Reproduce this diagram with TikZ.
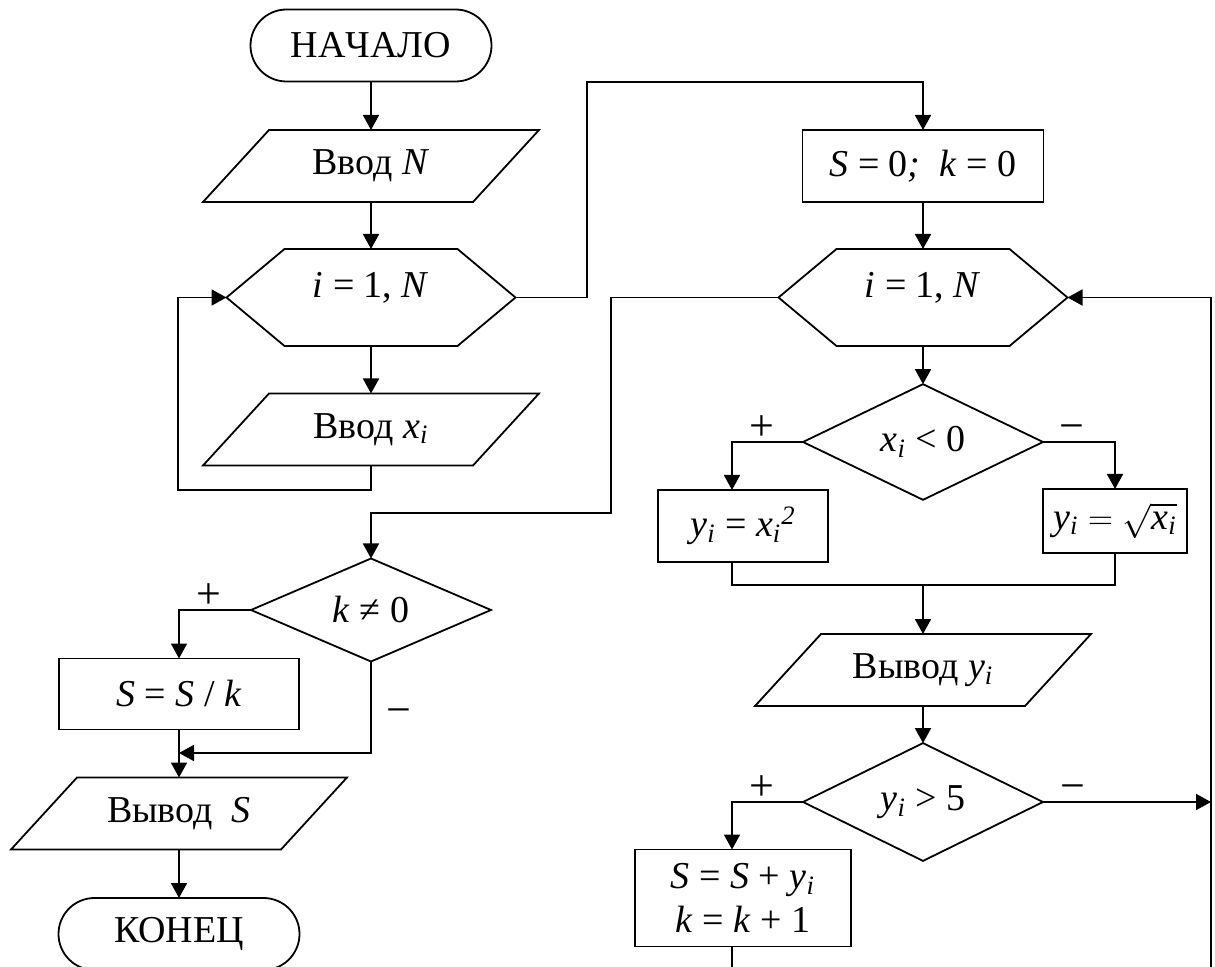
\documentclass[tikz,border=0pt]{standalone}
\usepackage{fontspec}
\setmainfont{Liberation Serif}
\usepackage{amsmath}
\usepackage{tikz}
\usetikzlibrary{arrows.meta}
\usetikzlibrary{shapes.geometric,shapes.misc}
\usetikzlibrary{positioning}
\newcommand{\idx}[1]{\textit{#1}\textsubscript{\textit{i}}}
\tikzset{
	% 1 unit = 1 pixel of the scheme
	base/.style={inner sep=0pt, outer sep=0pt, align=center,
		font=\fontsize{19}{22}\selectfont},
	term/.style={base, draw, rounded rectangle, minimum width=120.5pt, minimum height=36pt},
	proc/.style={base, draw, rectangle},
	iobox/.style={base, minimum width=168pt, minimum height=36pt,
		append after command={\pgfextra{\draw ([xshift=33pt]\tikzlastnode.north west)
			-- (\tikzlastnode.north east) -- ([xshift=-33pt]\tikzlastnode.south east)
			-- (\tikzlastnode.south west) -- cycle;}}},
	loopbox/.style={base, minimum width=144.5pt, minimum height=48.5pt,
		text height=13pt, text depth=13pt,
		append after command={\pgfextra{\draw (\tikzlastnode.west)
			-- ([xshift=29pt]\tikzlastnode.north west) -- ([xshift=-29pt]\tikzlastnode.north east)
			-- (\tikzlastnode.east) -- ([xshift=-29pt]\tikzlastnode.south east)
			-- ([xshift=29pt]\tikzlastnode.south west) -- cycle;}}},
	cond/.style={base, draw, diamond, minimum width=120pt, minimum height=48pt},
	sign/.style={inner sep=0.5pt, font=\fontsize{22}{24}\selectfont},
}
\tikzstyle{line} = [draw, -{Triangle[length=7.5pt,width=8pt]}]

\begin{document}
\begin{tikzpicture}[x=0.5pt, y=-0.5pt, line width=0.9pt]
	\useasboundingbox (0,0) rectangle (1215,967);
	\node[term] (start) at (371,45.5) {\addfontfeature{Kerning=Off}НАЧАЛО};
	\node[iobox] (inN) at (371,166) {Ввод \textit{N}};
	\node[loopbox] (loopA) at (371,297.5) {\textit{i} = 1, \textit{N}};
	\node[iobox] (inX) at (371,429.5) {Ввод \idx{x}};
	\node[proc, minimum width=120.5pt, minimum height=36pt] (init) at (923,166) {\textit{S} = 0\textit{;}\enspace \textit{k} = 0};
	\node[loopbox] (loopB) at (923,297.5) {\textit{i} = 1, \textit{N}};
	\node[cond] (c1) at (923,442) {\idx{x} < 0};
	\node[proc, minimum width=85pt, minimum height=36pt] (sq) at (743,526) {\idx{y} = \idx{x}\textsuperscript{\textit{2}}};
	\node[proc, minimum width=72pt, minimum height=32pt] (rt) at (1115,521) {$\idx{y} = \sqrt{\idx{x}}$};
	\node[iobox] (outY) at (923,670) {Вывод \idx{y}};
	\node[cond] (c2) at (923,802) {\idx{y} > 5};
	\node[proc, minimum width=108pt, minimum height=48.5pt] (acc) at (743,898) {\textit{S} = \textit{S} + \idx{y}\\ \textit{k} = \textit{k} + 1};
	\node[cond] (c3) at (371,610) {\textit{k} ≠ 0};
	\node[proc, minimum width=120pt, minimum height=35.5pt] (div) at (179,694) {\textit{S} = \textit{S} / \textit{k}};
	\node[iobox] (outS) at (179,813.5) {Вывод\enspace\textit{S}};
	\node[term] (stop) at (179,934) {КОНЕЦ};

	\coordinate (lA) at (178,490);
	\coordinate (tA) at (587,82);
	\coordinate (lB) at (611,513);
	\coordinate (lb) at (732,0);
	\coordinate (rl) at (1211,0);
	\coordinate (j) at (923,585);
	\coordinate (m) at (179,753);
	\coordinate (bot) at (0,995);

	\draw[line] (start.south) -- (inN.north);
	\draw[line] (inN.south) -- (loopA.north);
	\draw[line] (loopA.south) -- (inX.north);
	\draw[line] (inX.south) |- (lA) |- (loopA.west);
	\draw[line] (loopA.east) -| (tA) -| (init.north);
	\draw[line] (init.south) -- (loopB.north);
	\draw[line] (loopB.south) -- (c1.north);
	\draw[line] (c1.west) -| node[sign, above, pos=0.29] {+} (lb |- sq.north);
	\draw[line] (c1.east) -| node[sign, above, pos=0.2] {−} (rt.north);
	\draw (lb |- sq.south) |- (j);
	\draw (rt.south) |- (j);
	\draw[line] (j) -- (outY.north);
	\draw[line] (outY.south) -- (c2.north);
	\draw[line] (c2.west) -| node[sign, above, pos=0.29] {+} (lb |- acc.north);
	\draw[line] (c2.east) -- node[sign, above, pos=0.18] {−} (rl |- c2.east);
	\draw[line] (lb |- acc.south) |- (rl |- bot) |- (loopB.east);
	\draw[line] (loopB.west) -| (lB) -| (c3.north);
	\draw[line] (c3.west) -| node[sign, above, pos=0.29] {+} (div.north);
	\draw[line] (c3.south) |- node[sign, right=7pt, pos=0.3] {−} (m);
	\draw[line] (div.south) -- (outS.north);
	\draw[line] (outS.south) -- (stop.north);
\end{tikzpicture}
\end{document}
